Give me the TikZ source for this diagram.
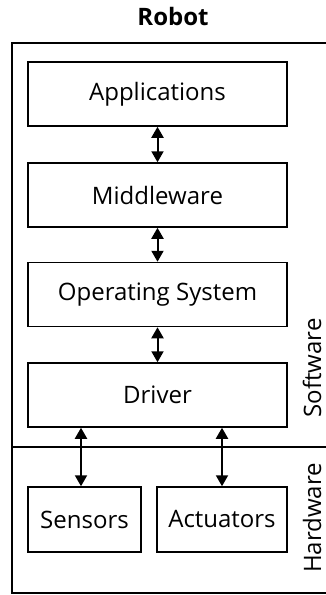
\documentclass[tikz,border=0pt]{standalone}
\usepackage{fontspec}
\setmainfont{Open Sans}
\usetikzlibrary{arrows.meta}
\begin{document}
\begin{tikzpicture}[x=1pt, y=-1pt,
    font=\fontsize{24}{28}\selectfont,
    layer/.style={draw, line width=1.5pt, inner sep=0pt, minimum width=259pt, minimum height=64pt},
    part/.style={draw, line width=1.5pt, inner sep=0pt, minimum height=65pt},
    link/.style={{Triangle[width=12pt,length=11pt]}-{Triangle[width=12pt,length=11pt]}, line width=2pt},
    side/.style={rotate=90, anchor=base, inner sep=0pt}]
  \useasboundingbox (0,0) rectangle (326,595);
  \node (title) at (173,16) {\textbf{Robot}};
  \draw [line width=1.3pt] (12,43) rectangle (332,593);
  \draw [line width=2pt] (12,447) -- (332,447);
  % software stack
  \node [layer] (app) at (157.5,94) {Applications};
  \node [layer] (mid) at (157.5,195) {Middleware};
  \node [layer] (os) at (157.5,294.5) {Operating System};
  \node [layer] (drv) at (157.5,395) {Driver};
  % hardware
  \node [part, minimum width=113pt] (sens) at (84.5,519.5) {Sensors};
  \node [part, minimum width=130pt] (act) at (222,519.5) {Actuators};
  \draw [link] (app) -- (mid);
  \draw [link] (mid) -- (os);
  \draw [link] (os) -- (drv);
  \draw [link] ([xshift=-3.5pt]sens.north |- drv.south) -- ([xshift=-3.5pt]sens.north);
  \draw [link] (act.north |- drv.south) -- (act.north);
  \node [side] (sw) at (321,368) {Software};
  \node [side] (hw) at (321,518) {Hardware};
\end{tikzpicture}
\end{document}
